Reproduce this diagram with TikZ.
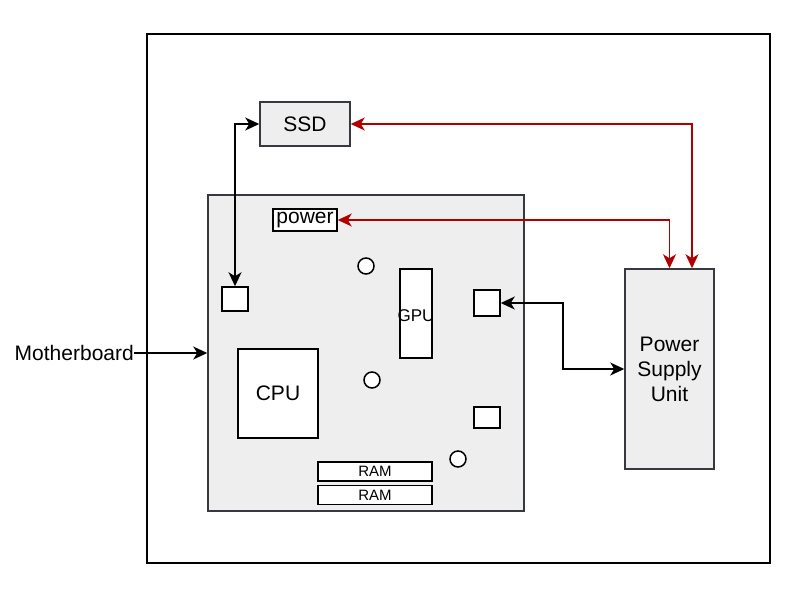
\documentclass[tikz,border=0pt]{standalone}
\usepackage{fontspec}
\setmainfont{Liberation Sans}
\usepackage{tikz}
\usetikzlibrary{positioning,arrows.meta}
\definecolor{boxfill}{HTML}{EEEEEE}
\definecolor{boxline}{HTML}{36393D}
\definecolor{powerred}{HTML}{B20000}

\begin{document}
\begin{tikzpicture}[x=1pt,y=-1pt,
		every node/.style={
			align=center,
			font=\fontsize{21}{25}\selectfont,
			inner sep=0pt,
		},
		part/.style={draw=boxline, fill=boxfill, line width=1.5pt},
		chip/.style={draw=black, fill=white, line width=1.5pt},
		hole/.style={circle, draw=black, fill=white, line width=1.5pt, minimum size=16pt},
		link/.style={line width=1.5pt, {Stealth[length=14pt,width=13pt,inset=4pt]}-{Stealth[length=14pt,width=13pt,inset=4pt]}},
		cable/.style={link, draw=powerred},
		]
		\useasboundingbox (0,0) rectangle (793,590);

		\node (case) [draw, line width=1.5pt, minimum width=623pt, minimum height=529pt] at (458.5,298.5) {};
		\node (ssd) [part, minimum width=90pt, minimum height=44pt] at (305,124) {SSD};
		\node (board) [part, minimum width=316pt, minimum height=316pt] at (366,353) {};
		\node (psu) [part, minimum width=89pt, minimum height=200pt] at (669.5,369) {Power\\Supply\\Unit};

		\node (power) [chip, minimum width=64pt, minimum height=22pt] at (305,220) {power};
		\node (portA) [chip, minimum width=26pt, minimum height=24pt] at (235,299) {};
		\node (gpu) [chip, minimum width=32pt, minimum height=89pt,
			label={[font=\fontsize{17}{20}\selectfont, yshift=-2pt]center:GPU}] at (416,313.5) {};
		\node (portB) [chip, minimum width=26pt, minimum height=26pt] at (487,303) {};
		\node (cpu) [chip, minimum width=80pt, minimum height=89pt] at (278,393.5) {CPU};
		\node (slot) [chip, minimum width=26pt, minimum height=21pt] at (487,417.5) {};
		\node (ram1) [chip, minimum width=114pt, minimum height=19pt, font=\fontsize{15}{18}\selectfont] at (375,471.5) {RAM};
		\node (ram2) [chip, minimum width=114pt, minimum height=19pt, font=\fontsize{15}{18}\selectfont] at (375,495) {RAM};
		\node (holeA) [hole] at (366,266) {};
		\node (holeB) [hole] at (372,380) {};
		\node (holeC) [hole] at (458,459) {};

		\node (mblabel) [anchor=east] at (134,353) {Motherboard};

		\draw[link] (portA.north) |- (ssd.west);
		\draw[link] (portB.east) -- ++(62,0) |- (psu.west);
		\draw[line width=1.5pt, -{Stealth[length=14pt,width=13pt,inset=4pt]}] (mblabel.east) -- (board.west);
		\draw[cable] (ssd.east) -| ([xshift=22.5pt]psu.north);
		\draw[cable] (power.east) -| (psu.north);

	\end{tikzpicture}
\end{document}
